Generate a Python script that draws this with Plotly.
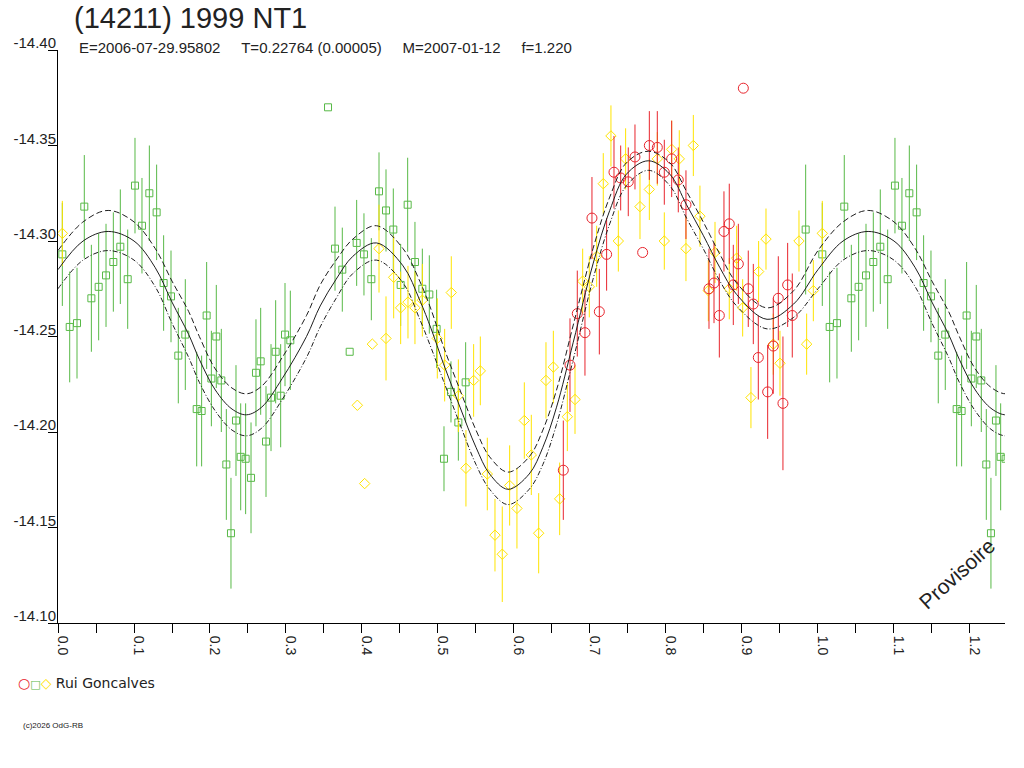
import plotly.graph_objects as go

# ---------------- data ----------------
G_PHASE = [0.0057, 0.0154, 0.0250, 0.0346, 0.0439, 0.0535, 0.0632, 0.0728, 0.0820, 0.0917,
           0.1013, 0.1105, 0.1202, 0.1298, 0.1390, 0.1487, 0.1583, 0.1675, 0.1825, 0.1890,
           0.1956, 0.2018, 0.2083, 0.2149, 0.2215, 0.2276, 0.2342, 0.2404, 0.2469, 0.2540,
           0.2605, 0.2667, 0.2737, 0.2803, 0.2864, 0.2930, 0.2987, 0.3057,
           0.3553, 0.3645, 0.3741, 0.3838, 0.3930, 0.4026, 0.4123, 0.4224, 0.4316, 0.4412,
           0.4509, 0.4601, 0.4697, 0.4794, 0.4886, 0.4982, 0.5079, 0.5171, 0.5268, 0.5364,
           0.9838]
G_MAG = [-14.293, -14.255, -14.257, -14.318, -14.270, -14.276, -14.282, -14.289, -14.297, -14.280,
         -14.329, -14.308, -14.325, -14.315, -14.278, -14.271, -14.240, -14.251, -14.212, -14.211,
         -14.261, -14.228, -14.250, -14.227, -14.183, -14.147, -14.206, -14.187, -14.186, -14.176,
         -14.231, -14.237, -14.195, -14.218, -14.242, -14.219, -14.251, -14.248,
         -14.370, -14.296, -14.285, -14.242, -14.299, -14.293, -14.280, -14.326, -14.316, -14.306,
         -14.277, -14.319, -14.289, -14.275, -14.272, -14.254, -14.186, -14.221, -14.205, -14.226,
         -14.306]
G_ERR = [0.027, 0.029, 0.029, 0.027, 0.028, 0.028, 0.027, 0.026, 0.030, 0.026,
         0.025, 0.025, 0.025, 0.025, 0.025, 0.024, 0.025, 0.029, 0.030, 0.029,
         0.028, 0.025, 0.027, 0.027, 0.029, 0.029, 0.029, 0.028, 0.029, 0.029,
         0.028, 0.028, 0.029, 0.028, 0.027, 0.027, 0.027, 0.026,
         0.0, 0.022, 0.022, 0.0, 0.0225, 0.0215, 0.0215, 0.0204, 0.0215, 0.0215,
         0.0215, 0.0246, 0.021, 0.021, 0.0205, 0.0205, 0.017, 0.016, 0.020, 0.021,
         0.034]

Y_PHASE = [0.0057, 0.3939, 0.4035, 0.4136, 0.4224, 0.4316, 0.4417, 0.4509, 0.4605, 0.4697,
           0.4794, 0.4991, 0.5088, 0.5175, 0.5268, 0.5368, 0.5469, 0.5557, 0.5649, 0.5750,
           0.5846, 0.5943, 0.6039, 0.6136, 0.6228, 0.6325, 0.6421, 0.6518, 0.6601, 0.6702,
           0.6803, 0.6904, 0.6991, 0.7088, 0.7175, 0.7276, 0.7373, 0.7469, 0.7658, 0.7781,
           0.7886, 0.7978, 0.8075, 0.8175, 0.8263, 0.8360, 0.8447, 0.8557, 0.8645, 0.8833,
           0.8930, 0.9009, 0.9118, 0.9219, 0.9316, 0.9412, 0.9500, 0.9750, 0.9851, 0.9939]
Y_MAG = [-14.304, -14.214, -14.173, -14.246, -14.296, -14.249, -14.281, -14.265, -14.268, -14.265,
         -14.269, -14.249, -14.235, -14.273, -14.219, -14.181, -14.227, -14.232, -14.178, -14.146,
         -14.136, -14.172, -14.160, -14.206, -14.188, -14.147, -14.227, -14.234, -14.165, -14.208,
         -14.217, -14.279, -14.276, -14.292, -14.330, -14.355, -14.300, -14.343, -14.318, -14.327,
         -14.343, -14.300, -14.348, -14.343, -14.296, -14.350, -14.313, -14.274, -14.294, -14.275,
         -14.291, -14.265, -14.218, -14.284, -14.301, -14.246, -14.236, -14.300, -14.246, -14.274]
Y_ERR = [0.017, 0.0, 0.0, 0.0, 0.023, 0.022, 0.0215, 0.019, 0.019, 0.019,
         0.019, 0.021, 0.019, 0.019, 0.019, 0.020, 0.019, 0.018, 0.019, 0.019,
         0.025, 0.021, 0.021, 0.020, 0.021, 0.021, 0.020, 0.019, 0.019, 0.018,
         0.018, 0.017, 0.016, 0.016, 0.016, 0.016, 0.016, 0.016, 0.017, 0.016,
         0.014, 0.015, 0.015, 0.015, 0.017, 0.016, 0.016, 0.016, 0.016, 0.016,
         0.017, 0.015, 0.016, 0.016, 0.016, 0.016, 0.017, 0.016, 0.016, 0.016]

R_PHASE = [0.6649, 0.6737, 0.6833, 0.6934, 0.7026, 0.7123, 0.7219, 0.7316, 0.7404, 0.7504,
           0.7592, 0.7693, 0.7781, 0.7886, 0.7978, 0.8075, 0.8162, 0.8263, 0.8566, 0.8632,
           0.8702, 0.8763, 0.8833, 0.8886, 0.8952, 0.9018, 0.9083, 0.9149, 0.9215, 0.9338,
           0.9412, 0.9478, 0.9539, 0.9601, 0.9662]
R_MAG = [-14.180, -14.235, -14.262, -14.252, -14.312, -14.263, -14.293, -14.336, -14.333, -14.331,
         -14.344, -14.294, -14.350, -14.349, -14.336, -14.343, -14.332, -14.319, -14.275, -14.278,
         -14.261, -14.305, -14.309, -14.277, -14.288, -14.380, -14.275, -14.267, -14.239, -14.221,
         -14.245, -14.270, -14.215, -14.277, -14.261]
R_ERR = [0.026, 0.0245, 0.0225, 0.0225, 0.0215, 0.0224, 0.019, 0.019, 0.017, 0.018,
         0.017, 0.0, 0.018, 0.019, 0.017, 0.020, 0.017, 0.018, 0.021, 0.021,
         0.022, 0.021, 0.021, 0.021, 0.021, 0.0, 0.020, 0.021, 0.022, 0.0246,
         0.025, 0.022, 0.035, 0.022, 0.022]

# fitted light curve and its envelope, read at knots over one rotation phase
CURVE_PHASE = [0.000, 0.033, 0.066, 0.100, 0.128, 0.150, 0.172, 0.186, 0.207, 0.229,
               0.248, 0.268, 0.295, 0.327, 0.345, 0.366, 0.388, 0.419, 0.454, 0.476,
               0.491, 0.507, 0.529, 0.550, 0.568, 0.592, 0.620, 0.638, 0.656, 0.678,
               0.704, 0.726, 0.748, 0.777, 0.805, 0.827, 0.849, 0.871, 0.893, 0.933,
               0.968, 1.000]
CURVE_MID = [-14.285, -14.300, -14.305, -14.300, -14.286, -14.268, -14.251, -14.238, -14.222, -14.212,
             -14.209, -14.213, -14.228, -14.250, -14.266, -14.280, -14.292, -14.299, -14.287, -14.269,
             -14.254, -14.236, -14.213, -14.192, -14.178, -14.170, -14.178, -14.192, -14.213, -14.247,
             -14.288, -14.316, -14.335, -14.342, -14.335, -14.319, -14.303, -14.286, -14.272, -14.259,
             -14.267, -14.285]
CURVE_UP = [-14.295, -14.310, -14.316, -14.310, -14.296, -14.279, -14.263, -14.250, -14.233, -14.223,
            -14.220, -14.224, -14.239, -14.261, -14.277, -14.290, -14.301, -14.308, -14.296, -14.279,
            -14.264, -14.245, -14.222, -14.201, -14.187, -14.179, -14.187, -14.201, -14.222, -14.256,
            -14.296, -14.323, -14.341, -14.347, -14.341, -14.326, -14.310, -14.293, -14.278, -14.265,
            -14.274, -14.295]
CURVE_LOW = [-14.275, -14.290, -14.295, -14.290, -14.276, -14.257, -14.239, -14.226, -14.211, -14.201,
             -14.198, -14.202, -14.217, -14.239, -14.255, -14.270, -14.283, -14.290, -14.278, -14.259,
             -14.244, -14.227, -14.204, -14.183, -14.170, -14.162, -14.170, -14.183, -14.204, -14.238,
             -14.280, -14.309, -14.329, -14.337, -14.329, -14.312, -14.296, -14.279, -14.266, -14.254,
             -14.260, -14.275]

Y_TICKS = [-14.40, -14.35, -14.30, -14.25, -14.20, -14.15, -14.10]
Y_TICK_LABELS = ["-14.40", "-14.35", "-14.30", "-14.25", "-14.20", "-14.15", "-14.10"]
X_TICKS = [0.0, 0.1, 0.2, 0.3, 0.4, 0.5, 0.6, 0.7, 0.8, 0.9, 1.0, 1.1, 1.2]
X_TICK_LABELS = ["0.0", "0.1", "0.2", "0.3", "0.4", "0.5", "0.6", "0.7", "0.8", "0.9", "1.0", "1.1", "1.2"]

X_MAX = 1.2461

TITLE = "(14211) 1999 NT1"
SUBTITLE_PARTS = ["E=2006-07-29.95802", "T=0.22764 (0.00005)", "M=2007-01-12", "f=1.220"]
OBSERVER = "Rui Goncalves"

GREEN = "#58b947"
YELLOW = "#ffe400"
RED = "#e8252d"
INK = "#1e1e1e"
FONT = "Liberation Sans, Arial, sans-serif"


def wrap(phase, *cols):
    """Repeat the points of the first part of the rotation after phase 1."""
    out_p = list(phase)
    outs = [list(c) for c in cols]
    for i, p in enumerate(phase):
        if p + 1.0 <= X_MAX + 0.03 and p > 0:
            out_p.append(p + 1.0)
            for o, c in zip(outs, cols):
                o.append(c[i])
    return (out_p, *outs)


fig = go.Figure()


def add_points(ph, mag, err, color, symbol, size):
    p, m, e = wrap(ph, mag, err)
    fig.add_trace(go.Scatter(
        x=p, y=m, mode="markers",
        marker=dict(symbol=symbol, size=size, color=color,
                    line=dict(color=color, width=1)),
        error_y=dict(type="data", array=e, visible=True, color=color,
                     thickness=1, width=0),
        showlegend=False, hoverinfo="skip"))


add_points(G_PHASE, G_MAG, G_ERR, GREEN, "square-open", 7)
add_points(Y_PHASE, Y_MAG, Y_ERR, YELLOW, "diamond-open", 8)
add_points(R_PHASE, R_MAG, R_ERR, RED, "circle-open", 10)

cp, cm, cu, cl = wrap(CURVE_PHASE, CURVE_MID, CURVE_UP, CURVE_LOW)
order = sorted(range(len(cp)), key=lambda i: cp[i])
cp = [cp[i] for i in order]
cm = [cm[i] for i in order]
cu = [cu[i] for i in order]
cl = [cl[i] for i in order]

fig.add_trace(go.Scatter(x=cp, y=cu, mode="lines",
                         line=dict(color=INK, width=1, dash="6px,3px", shape="spline"),
                         showlegend=False, hoverinfo="skip"))
fig.add_trace(go.Scatter(x=cp, y=cl, mode="lines",
                         line=dict(color=INK, width=1, dash="5px,2px,1px,2px", shape="spline"),
                         showlegend=False, hoverinfo="skip"))
fig.add_trace(go.Scatter(x=cp, y=cm, mode="lines",
                         line=dict(color=INK, width=1, shape="spline"),
                         showlegend=False, hoverinfo="skip"))

gap = "\u00a0" * 5
subtitle = gap.join(SUBTITLE_PARTS)

legend_html = (f"<span style='color:{RED}'>○</span>"
               f"<span style='color:{GREEN};font-size:11px'>□</span>"
               f"<span style='color:{YELLOW}'>◇</span> {OBSERVER}")

fig.update_layout(
    width=1024, height=768,
    margin=dict(l=58, r=19, t=50, b=145, autoexpand=False),
    paper_bgcolor="white", plot_bgcolor="white",
    font=dict(family=FONT, color="#222222", size=14),
    showlegend=False,
    xaxis=dict(range=[0, X_MAX], showgrid=False, zeroline=False,
               showline=True, linecolor="black", linewidth=1,
               tickmode="array", tickvals=X_TICKS, ticktext=X_TICK_LABELS,
               ticks="outside", ticklen=9, tickcolor="black", tickwidth=1,
               tickangle=90, ticklabelshift=5,
               tickfont=dict(family=FONT, size=14, color="#222222"),
               minor=dict(tickmode="linear", tick0=0, dtick=0.05, ticks="outside",
                          ticklen=9, tickcolor="black", tickwidth=1, showgrid=False),
               automargin=False),
    yaxis=dict(range=[-14.10, -14.40], showgrid=False, zeroline=False,
               showline=True, linecolor="black", linewidth=1,
               tickmode="array", tickvals=Y_TICKS, ticktext=Y_TICK_LABELS,
               ticks="outside", ticklen=9, tickcolor="black", tickwidth=1,
               ticklabelstandoff=-11, ticklabelshift=7,
               tickfont=dict(family=FONT, size=15, color="#222222"),
               automargin=False),
    annotations=[
        dict(text=TITLE, xref="paper", yref="paper", x=0.0150, y=1.0559,
             xanchor="left", yanchor="middle", showarrow=False,
             font=dict(family=FONT, size=29, color="#222222")),
        dict(text=subtitle, xref="paper", yref="paper", x=0.0201, y=1.0035,
             xanchor="left", yanchor="middle", showarrow=False,
             font=dict(family=FONT, size=15, color="#222222")),
        dict(text=legend_html, xref="paper", yref="paper", x=-0.0440, y=-0.1053,
             xanchor="left", yanchor="middle", showarrow=False,
             font=dict(family="DejaVu Sans, " + FONT, size=14, color="#222222")),
        dict(text="(c)2026 OdG-RB", xref="paper", yref="paper", x=-0.0391, y=-0.1793,
             xanchor="left", yanchor="middle", showarrow=False,
             font=dict(family=FONT, size=8, color="#222222")),
        dict(text="Provisoire", xref="paper", yref="paper", x=0.9493, y=0.0870,
             xanchor="center", yanchor="middle", showarrow=False, textangle=-42,
             font=dict(family=FONT, size=21, color="#222222")),
    ],
)

# remove the default 8px page margin so the figure fills the window exactly
fig.write_html("out.html", config={"displayModeBar": False},
               post_script="document.body.style.margin='0';")
